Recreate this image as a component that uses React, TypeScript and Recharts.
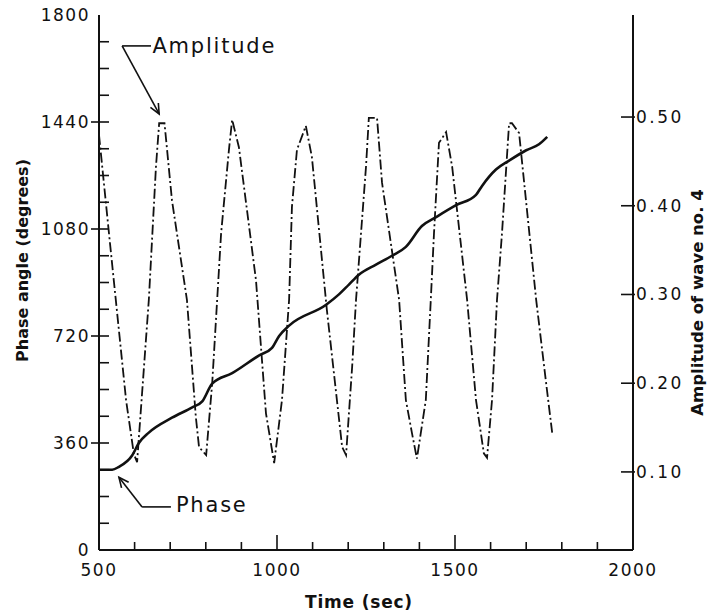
import React from "react";
import {
  LineChart,
  Line,
  XAxis,
  YAxis,
  ReferenceLine,
  ReferenceDot,
} from "recharts";

// ---- data ----
const phaseTime = [500, 537, 556, 593, 612, 640, 705, 762, 790, 818, 874, 950, 986, 1006, 1034, 1138, 1174, 1202, 1230, 1278, 1323, 1362, 1407, 1447, 1503, 1559, 1576, 1615, 1652, 1700, 1736, 1759];
const phaseDeg = [270, 270, 280, 318, 360, 395, 445, 480, 500, 560, 595, 655, 680, 720, 755, 825, 860, 893, 926, 960, 990, 1020, 1090, 1120, 1160, 1195, 1225, 1280, 1310, 1345, 1365, 1390];

const ampTime = [500, 528, 551, 576, 598, 607, 640, 660, 669, 684, 705, 747, 772, 781, 801, 818, 843, 865, 874, 893, 941, 969, 992, 1014, 1034, 1042, 1056, 1081, 1098, 1140, 1183, 1194, 1211, 1222, 1250, 1258, 1281, 1295, 1343, 1362, 1379, 1393, 1418, 1432, 1441, 1455, 1475, 1492, 1534, 1559, 1581, 1590, 1604, 1618, 1632, 1652, 1660, 1680, 1728, 1756, 1773];
const ampValue = [0.48, 0.369, 0.279, 0.181, 0.12, 0.111, 0.294, 0.444, 0.493, 0.493, 0.406, 0.294, 0.162, 0.128, 0.119, 0.2, 0.369, 0.463, 0.497, 0.466, 0.316, 0.166, 0.11, 0.181, 0.294, 0.399, 0.463, 0.49, 0.455, 0.283, 0.128, 0.119, 0.218, 0.294, 0.444, 0.499, 0.499, 0.426, 0.294, 0.181, 0.144, 0.115, 0.181, 0.294, 0.369, 0.471, 0.483, 0.444, 0.294, 0.181, 0.121, 0.116, 0.181, 0.294, 0.369, 0.493, 0.493, 0.482, 0.294, 0.2, 0.144];

const xTicks = [500, 600, 700, 800, 900, 1000, 1100, 1200, 1300, 1400, 1500, 1600, 1700, 1800, 1900, 2000];
const xLabelTicks = [500, 1000, 1500, 2000];
const xMajorTicks = [1000, 1500];
const leftTicks = [0, 90, 180, 270, 360, 450, 540, 630, 720, 810, 900, 990, 1080, 1170, 1260, 1350, 1440, 1530, 1620, 1710, 1800];
const leftLabelTicks = [0, 360, 720, 1080, 1440, 1800];
const rightTicks = [0.1, 0.2, 0.3, 0.4, 0.5];

const phaseData = phaseTime.map((t, i) => ({ t, phase: phaseDeg[i] }));
const ampData = ampTime.map((t, i) => ({ t, amp: ampValue[i] }));

const FONT = "'DejaVu Sans', sans-serif";
const INK = "#111";

const BottomTick = (props: any) => {
  const { x, y, payload } = props;
  const v = payload.value;
  const len = xMajorTicks.includes(v) ? 15 : 8;
  return (
    <g>
      {v !== 500 && v !== 2000 && (
        <line x1={x} y1={y} x2={x} y2={y - len} stroke={INK} strokeWidth={1.6} />
      )}
      {xLabelTicks.includes(v) && (
        <text x={x} y={y + 20} textAnchor="middle" dominantBaseline="central" fontFamily={FONT} fontSize={17} letterSpacing={1.5} fill={INK}>
          {v}
        </text>
      )}
    </g>
  );
};

const TopTick = (props: any) => {
  const { x, y, payload } = props;
  const v = payload.value;
  if (v === 500 || v === 2000) return <g />;
  const len = xMajorTicks.includes(v) ? 18 : 10;
  return <line x1={x} y1={y} x2={x} y2={y + len} stroke={INK} strokeWidth={1.6} />;
};

const LeftTick = (props: any) => {
  const { x, y, payload } = props;
  const v = payload.value;
  const major = leftLabelTicks.includes(v);
  return (
    <g>
      {v !== 0 && v !== 1800 && (
        <line x1={major ? x - 8 : x} y1={y} x2={x + 10} y2={y} stroke={INK} strokeWidth={1.6} />
      )}
      {major && (
        <text x={x - 9} y={y} textAnchor="end" dominantBaseline="central" fontFamily={FONT} fontSize={17} letterSpacing={1.5} fill={INK}>
          {v}
        </text>
      )}
    </g>
  );
};

const RightTick = (props: any) => {
  const { x, y, payload } = props;
  const v = payload.value;
  return (
    <g>
      <line x1={x - 12} y1={y} x2={x + 2} y2={y} stroke={INK} strokeWidth={1.6} />
      <text x={x + 3} y={y} textAnchor="start" dominantBaseline="central" fontFamily={FONT} fontSize={17} letterSpacing={2.5} fill={INK}>
        {v.toFixed(2)}
      </text>
    </g>
  );
};

const ArrowShape = (props: any) => {
  const { x1, y1, x2, y2 } = props;
  const ang = Math.atan2(y2 - y1, x2 - x1);
  const L = 10;
  const W = 4.5;
  const bx = x2 - L * Math.cos(ang);
  const by = y2 - L * Math.sin(ang);
  const px = -Math.sin(ang) * W;
  const py = Math.cos(ang) * W;
  return (
    <g>
      <line x1={x1} y1={y1} x2={x2} y2={y2} stroke={INK} strokeWidth={1.6} />
      <polyline points={`${bx + px},${by + py} ${x2},${y2} ${bx - px},${by - py}`} fill="none" stroke={INK} strokeWidth={1.6} />
    </g>
  );
};

const PlainLine = (props: any) => {
  const { x1, y1, x2, y2 } = props;
  return <line x1={x1} y1={y1} x2={x2} y2={y2} stroke={INK} strokeWidth={1.6} />;
};

const makeText = (txt: string) => (props: any) => {
  const { cx, cy } = props;
  return (
    <text x={cx} y={cy} textAnchor="start" dominantBaseline="central" fontFamily={FONT} fontSize={21} letterSpacing={1.8} fill={INK}>
      {txt}
    </text>
  );
};

const LeftAxisLabel = (props: any) => {
  const vb = props.viewBox;
  const cx = vb.x + 22;
  const cy = vb.y + vb.height / 2 - 22;
  return (
    <text x={cx} y={cy} transform={`rotate(-90 ${cx} ${cy})`} textAnchor="middle" dominantBaseline="central" fontFamily={FONT} fontSize={16} fontWeight="bold" fill={INK}>
      Phase angle (degrees)
    </text>
  );
};

const RightAxisLabel = (props: any) => {
  const vb = props.viewBox;
  const cx = vb.x + 64;
  const cy = vb.y + vb.height / 2 + 20;
  return (
    <text x={cx} y={cy} transform={`rotate(-90 ${cx} ${cy})`} textAnchor="middle" dominantBaseline="central" fontFamily={FONT} fontSize={16.5} fontWeight="bold" fill={INK}>
      Amplitude of wave no. 4
    </text>
  );
};

const BottomAxisLabel = (props: any) => {
  const vb = props.viewBox;
  const cx = vb.x + vb.width / 2 - 7;
  const cy = vb.y + 52;
  return (
    <text x={cx} y={cy} textAnchor="middle" dominantBaseline="central" fontFamily={FONT} fontSize={17} fontWeight="bold" letterSpacing={0.8} fill={INK}>
      Time (sec)
    </text>
  );
};

export default function App() {
  return (
    <div style={{ position: "absolute", left: 0, top: 0, background: "#fff" }}>
      <LineChart width={708} height={613} margin={{ top: 15, right: 0, bottom: 0, left: 0 }}>
        <XAxis
          xAxisId="bottom"
          dataKey="t"
          type="number"
          domain={[500, 2000]}
          ticks={xTicks}
          interval={0}
          allowDataOverflow
          height={63}
          tickSize={0}
          tickMargin={0}
          tickLine={false}
          tick={BottomTick}
          axisLine={{ stroke: INK, strokeWidth: 2 }}
          label={BottomAxisLabel}
        />
        <XAxis
          xAxisId="top"
          orientation="top"
          dataKey="t"
          type="number"
          domain={[500, 2000]}
          ticks={xTicks}
          interval={0}
          allowDataOverflow
          height={0}
          tickSize={0}
          tickMargin={0}
          tickLine={false}
          tick={TopTick}
          axisLine={{ stroke: INK, strokeWidth: 2 }}
        />
        <YAxis
          yAxisId="left"
          type="number"
          domain={[0, 1800]}
          ticks={leftTicks}
          interval={0}
          allowDataOverflow
          width={99}
          tickSize={0}
          tickMargin={0}
          tickLine={false}
          tick={LeftTick}
          axisLine={{ stroke: INK, strokeWidth: 2 }}
          label={LeftAxisLabel}
        />
        <YAxis
          yAxisId="right"
          orientation="right"
          type="number"
          domain={[0.012, 0.615]}
          ticks={rightTicks}
          interval={0}
          allowDataOverflow
          width={75}
          tickSize={0}
          tickMargin={0}
          tickLine={false}
          tick={RightTick}
          axisLine={{ stroke: INK, strokeWidth: 2 }}
          label={RightAxisLabel}
        />
        <Line
          xAxisId="bottom"
          yAxisId="right"
          data={ampData}
          dataKey="amp"
          type="linear"
          stroke={INK}
          strokeWidth={1.8}
          strokeDasharray="10 3 2 3"
          dot={false}
          isAnimationActive={false}
        />
        <Line
          xAxisId="bottom"
          yAxisId="left"
          data={phaseData}
          dataKey="phase"
          type="monotone"
          stroke={INK}
          strokeWidth={2.6}
          dot={false}
          isAnimationActive={false}
        />
        {/* Amplitude annotation */}
        <ReferenceLine xAxisId="bottom" yAxisId="left" segment={[{ x: 565, y: 1696 }, { x: 669, y: 1467 }]} shape={ArrowShape} ifOverflow="visible" />
        <ReferenceLine xAxisId="bottom" yAxisId="left" segment={[{ x: 565, y: 1696 }, { x: 646, y: 1696 }]} shape={PlainLine} ifOverflow="visible" />
        <ReferenceDot xAxisId="bottom" yAxisId="left" x={650} y={1696} r={0} shape={makeText("Amplitude")} ifOverflow="visible" />
        {/* Phase annotation */}
        <ReferenceLine xAxisId="bottom" yAxisId="left" segment={[{ x: 621, y: 145 }, { x: 556, y: 245 }]} shape={ArrowShape} ifOverflow="visible" />
        <ReferenceLine xAxisId="bottom" yAxisId="left" segment={[{ x: 621, y: 145 }, { x: 702, y: 145 }]} shape={PlainLine} ifOverflow="visible" />
        <ReferenceDot xAxisId="bottom" yAxisId="left" x={716} y={151} r={0} shape={makeText("Phase")} ifOverflow="visible" />
      </LineChart>
    </div>
  );
}
